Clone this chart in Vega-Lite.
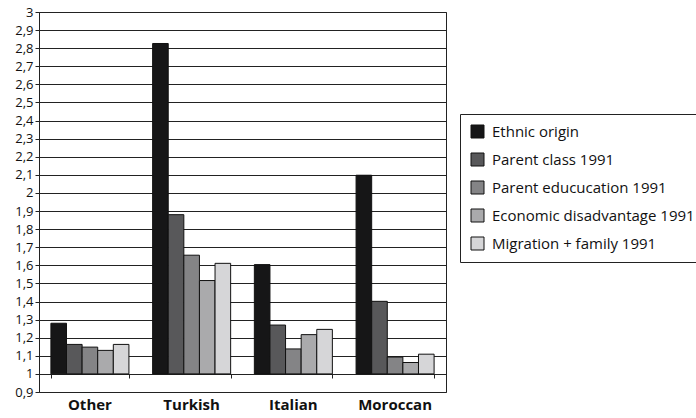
{
  "$schema": "https://vega.github.io/schema/vega-lite/v6.json",
  "width": 407,
  "height": 380,
  "autosize": {"type": "none"},
  "padding": {"left": 39, "top": 12, "right": 250, "bottom": 26},
  "background": "white",
  "config": {
    "font": "Open Sans",
    "view": {"stroke": "#222", "strokeWidth": 1}
  },
  "data": {
    "values": [
      {"origin": "Other", "series": "Ethnic origin", "value": 1.28},
      {"origin": "Other", "series": "Parent class 1991", "value": 1.163},
      {"origin": "Other", "series": "Parent educucation 1991", "value": 1.148},
      {"origin": "Other", "series": "Economic disadvantage 1991", "value": 1.13},
      {"origin": "Other", "series": "Migration + family 1991", "value": 1.163},
      {"origin": "Turkish", "series": "Ethnic origin", "value": 2.826},
      {"origin": "Turkish", "series": "Parent class 1991", "value": 1.88},
      {"origin": "Turkish", "series": "Parent educucation 1991", "value": 1.656},
      {"origin": "Turkish", "series": "Economic disadvantage 1991", "value": 1.516},
      {"origin": "Turkish", "series": "Migration + family 1991", "value": 1.611},
      {"origin": "Italian", "series": "Ethnic origin", "value": 1.604},
      {"origin": "Italian", "series": "Parent class 1991", "value": 1.27},
      {"origin": "Italian", "series": "Parent educucation 1991", "value": 1.138},
      {"origin": "Italian", "series": "Economic disadvantage 1991", "value": 1.217},
      {"origin": "Italian", "series": "Migration + family 1991", "value": 1.246},
      {"origin": "Moroccan", "series": "Ethnic origin", "value": 2.098},
      {"origin": "Moroccan", "series": "Parent class 1991", "value": 1.401},
      {"origin": "Moroccan", "series": "Parent educucation 1991", "value": 1.093},
      {"origin": "Moroccan", "series": "Economic disadvantage 1991", "value": 1.063},
      {"origin": "Moroccan", "series": "Migration + family 1991", "value": 1.109}
    ]
  },
  "layer": [
    {
      "mark": {"type": "bar", "stroke": "#111", "strokeWidth": 1},
      "encoding": {
        "x": {
          "field": "origin",
          "type": "nominal",
          "sort": ["Other", "Turkish", "Italian", "Moroccan"],
          "scale": {"paddingInner": 0.233, "paddingOuter": 0.117},
          "axis": {
            "title": null,
            "labelAngle": 0,
            "labelFontWeight": "bold",
            "labelFontSize": 15,
            "labelColor": "#111",
            "ticks": false,
            "domain": false,
            "labelPadding": 5
          }
        },
        "xOffset": {
          "field": "series",
          "type": "nominal",
          "sort": ["Ethnic origin", "Parent class 1991", "Parent educucation 1991", "Economic disadvantage 1991", "Migration + family 1991"],
          "scale": {"paddingInner": 0, "paddingOuter": 0}
        },
        "y": {
          "field": "value",
          "type": "quantitative",
          "scale": {"domain": [0.9, 3], "nice": false, "zero": false},
          "axis": {
            "title": null,
            "values": [0.9, 1, 1.1, 1.2, 1.3, 1.4, 1.5, 1.6, 1.7, 1.8, 1.9, 2, 2.1, 2.2, 2.3, 2.4, 2.5, 2.6, 2.7, 2.8, 2.9, 3],
            "tickCount": 40,
            "labelExpr": "replace(format(datum.value, '.1~f'), '.', ',')",
            "labelOverlap": false,
            "labelFontSize": 13,
            "labelColor": "#111",
            "labelPadding": 2,
            "tickSize": 4,
            "tickColor": "#222",
            "domainColor": "#222",
            "grid": true,
            "gridColor": "#222",
            "gridOpacity": 1,
            "gridWidth": 1
          }
        },
        "y2": {"datum": 1},
        "color": {
          "field": "series",
          "type": "nominal",
          "sort": ["Ethnic origin", "Parent class 1991", "Parent educucation 1991", "Economic disadvantage 1991", "Migration + family 1991"],
          "scale": {"range": ["#161617", "#58585a", "#848486", "#aaaaac", "#d6d6d8"]},
          "legend": {
            "title": null,
            "orient": "none",
            "legendX": 421,
            "legendY": 102,
            "strokeColor": "#222",
            "fillColor": "white",
            "padding": 10,
            "symbolType": "square",
            "symbolSize": 169,
            "symbolStrokeColor": "#111",
            "symbolStrokeWidth": 1,
            "symbolOpacity": 1,
            "labelFontSize": 15,
            "labelColor": "#111",
            "labelOffset": 7,
            "rowPadding": 11,
            "labelLimit": 300
          }
        }
      }
    },
    {
      "mark": {"type": "tick", "opacity": 0},
      "encoding": {
        "x": {
          "field": "origin",
          "type": "nominal",
          "sort": ["Other", "Turkish", "Italian", "Moroccan"],
          "scale": {"paddingInner": 0.233, "paddingOuter": 0.117},
          "axis": {
            "title": null,
            "orient": "top",
            "offset": -362,
            "labels": false,
            "ticks": true,
            "tickBand": "extent",
            "tickSize": -4,
            "tickColor": "#222",
            "domain": true,
            "domainColor": "#222",
            "grid": false
          }
        },
        "y": {"datum": 1}
      }
    }
  ],
  "resolve": {"scale": {"x": "independent"}, "axis": {"x": "independent"}}
}
